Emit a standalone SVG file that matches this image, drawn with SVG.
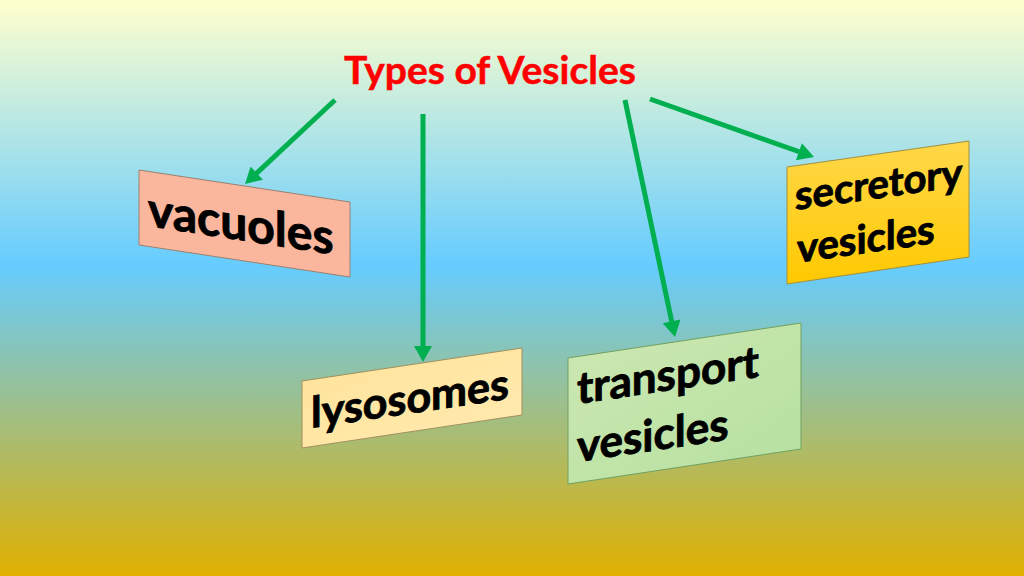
<svg xmlns="http://www.w3.org/2000/svg" width="1024" height="576" viewBox="0 0 1024 576">
  <defs>
    <linearGradient id="bg" x1="0" y1="0" x2="0" y2="1">
      <stop offset="0" stop-color="#ffffcc"/>
      <stop offset="0.46" stop-color="#66ccff"/>
      <stop offset="1" stop-color="#e0b000"/>
    </linearGradient>
    <linearGradient id="gSec" x1="0" y1="0" x2="0" y2="1">
      <stop offset="0" stop-color="#ffd84a"/>
      <stop offset="1" stop-color="#ffc900"/>
    </linearGradient>
    <linearGradient id="gLys" x1="0" y1="0" x2="1" y2="1">
      <stop offset="0" stop-color="#ffe39a"/>
      <stop offset="1" stop-color="#ffeab0"/>
    </linearGradient>
    <linearGradient id="gTra" x1="0" y1="0" x2="1" y2="1">
      <stop offset="0" stop-color="#cde8b2"/>
      <stop offset="1" stop-color="#b5e0a0"/>
    </linearGradient>
    <marker id="ah" markerUnits="userSpaceOnUse" markerWidth="18" markerHeight="18" viewBox="0 0 16 18" refX="4" refY="9" orient="auto">
      <path d="M0,0 L16,9 L0,18 z" fill="#00b050"/>
    </marker>
  </defs>
  <style>
    .box { stroke-width: 1; }
    .lbl { font-family: Lato, "Liberation Sans", sans-serif; font-weight: 700; fill: #000000; stroke: #000000; stroke-width: 0.9; }
    .title { font-family: Lato, "Liberation Sans", sans-serif; font-weight: 700; fill: #ff0000; stroke: #ff0000; stroke-width: 0.5; font-size: 39px; }
    .conn { stroke: #00b050; stroke-width: 5; fill: none; marker-end: url(#ah); }
  </style>

  <rect x="0" y="0" width="1024" height="576" fill="url(#bg)"/>

  <g id="title">
    <text class="title" x="490" y="84" text-anchor="middle">Types of Vesicles</text>
  </g>

  <g id="connectors">
    <line class="conn" x1="335" y1="100" x2="253.8" y2="175.8"/>
    <line class="conn" x1="423" y1="114" x2="423" y2="350"/>
    <line class="conn" x1="625" y1="100" x2="672.5" y2="325.3"/>
    <line class="conn" x1="650" y1="99" x2="802.7" y2="153"/>
  </g>

  <g id="vacuoles">
    <polygon class="box" points="139,170 350,202 350,277 139,245" fill="#fbb79e" stroke="#9a8070"/>
    <g transform="translate(148,226) skewY(8.7)">
      <text class="lbl" x="0" y="0" font-size="48">vacuoles</text>
    </g>
  </g>

  <g id="secretory">
    <polygon class="box" points="787,167 969,141 969,257 787,284" fill="url(#gSec)" stroke="#a09040"/>
    <g transform="translate(795,210) skewY(-8.1)">
      <text class="lbl" x="0" y="0" font-size="40">secretory</text>
      <text class="lbl" x="2" y="53" font-size="40">vesicles</text>
    </g>
  </g>

  <g id="lysosomes">
    <polygon class="box" points="302,381 522,348 522,415 302,448" fill="url(#gLys)" stroke="#a09060"/>
    <g transform="translate(311,428) skewY(-8.4)">
      <text class="lbl" x="0" y="0" font-size="43">lysosomes</text>
    </g>
  </g>

  <g id="transport">
    <polygon class="box" points="568,358 801,323 801,449 568,484" fill="url(#gTra)" stroke="#70a060"/>
    <g transform="translate(577,404) skewY(-8.5)">
      <text class="lbl" x="0" y="0" font-size="44">transport</text>
      <text class="lbl" x="0" y="58" font-size="44">vesicles</text>
    </g>
  </g>
</svg>
